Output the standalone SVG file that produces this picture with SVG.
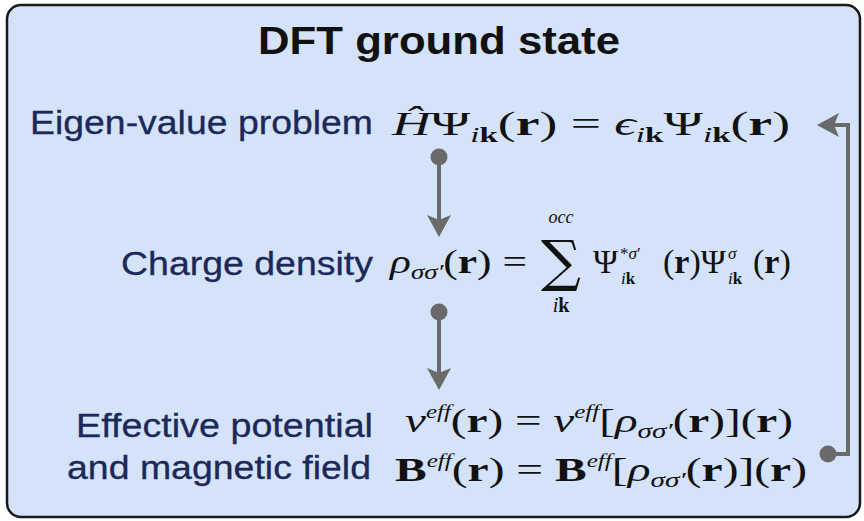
<svg xmlns="http://www.w3.org/2000/svg" width="864" height="521" viewBox="0 0 864 521">
<defs>
<style>
.lab{font-family:"Liberation Sans",Arial,sans-serif;font-size:33px;fill:#1b2858;stroke:#1b2858;stroke-width:0.3;text-anchor:end}
.title{font-family:"Liberation Sans",Arial,sans-serif;font-size:38px;font-weight:bold;fill:#111;text-anchor:middle}
.m{font-family:"Liberation Serif","DejaVu Serif",serif;font-size:34px;fill:#111}
.it{font-style:italic}
.bf{font-weight:bold}
.s{font-size:21px}
.ss{font-size:18px}
.sx{font-size:17px}
.con{fill:none;stroke:#6a6a6a;stroke-width:4}
</style>
<marker id="arr" markerUnits="userSpaceOnUse" markerWidth="24" markerHeight="26" viewBox="0 0 24 26" refX="10" refY="13" orient="auto">
<path d="M0,1 L22,13 L0,25 L5,13 Z" fill="#6a6a6a"/>
</marker>
<marker id="dot" markerUnits="userSpaceOnUse" markerWidth="20" markerHeight="20" viewBox="0 0 20 20" refX="10" refY="10" orient="auto">
<circle cx="10" cy="10" r="8.5" fill="#6a6a6a"/>
</marker>
</defs>
<rect x="7" y="5" width="853" height="512" rx="14" ry="14" fill="#d4e2fa" stroke="#1a1a1a" stroke-width="2.5"/>
<g id="title"><text class="title" x="439" y="54" textLength="362" lengthAdjust="spacingAndGlyphs">DFT ground state</text></g>
<g id="eigen">
<text class="lab" x="373" y="134" textLength="343" lengthAdjust="spacingAndGlyphs">Eigen-value problem</text>
<text class="m" x="392" y="135" textLength="398" lengthAdjust="spacingAndGlyphs"><tspan class="it">Ĥ</tspan><tspan>Ψ</tspan><tspan class="s it" dy="7">i</tspan><tspan class="s bf">k</tspan><tspan dy="-7">(</tspan><tspan class="bf">r</tspan><tspan>) = </tspan><tspan class="it">ϵ</tspan><tspan class="s it" dy="7">i</tspan><tspan class="s bf">k</tspan><tspan dy="-7">Ψ</tspan><tspan class="s it" dy="7">i</tspan><tspan class="s bf">k</tspan><tspan dy="-7">(</tspan><tspan class="bf">r</tspan><tspan>)</tspan></text>
</g>
<g id="charge">
<text class="lab" x="373" y="275" textLength="252" lengthAdjust="spacingAndGlyphs">Charge density</text>
<text class="m" x="390" y="273" textLength="137" lengthAdjust="spacingAndGlyphs"><tspan class="it">ρ</tspan><tspan class="s it" dy="6">σσ′</tspan><tspan dy="-6">(</tspan><tspan class="bf">r</tspan><tspan>) =</tspan></text>
<text x="561" y="280" text-anchor="middle" style="font-family:'DejaVu Serif',serif;font-size:56px;fill:#111">∑</text>
<text class="m ss it" x="561" y="223" text-anchor="middle">occ</text>
<text class="m" x="561" y="312" text-anchor="middle" style="font-size:20px"><tspan class="it">i</tspan><tspan class="bf">k</tspan></text>
<text class="m"><tspan x="593" y="273">Ψ</tspan><tspan class="sx" x="620" y="259">*<tspan class="it">σ</tspan>′</tspan><tspan class="sx" x="621" y="284"><tspan class="it">i</tspan><tspan class="bf">k</tspan></tspan><tspan x="663" y="273">(</tspan><tspan class="bf">r</tspan><tspan>)Ψ</tspan><tspan class="sx it" x="728" y="259">σ</tspan><tspan class="sx" x="728" y="284"><tspan class="it">i</tspan><tspan class="bf">k</tspan></tspan><tspan x="753" y="273">(</tspan><tspan class="bf">r</tspan><tspan>)</tspan></text>
</g>
<g id="effective">
<text class="lab" x="373" y="437" textLength="297" lengthAdjust="spacingAndGlyphs">Effective potential</text>
<text class="lab" x="371" y="479" textLength="304" lengthAdjust="spacingAndGlyphs">and magnetic field</text>
<text class="m" x="405" y="432" textLength="388" lengthAdjust="spacingAndGlyphs"><tspan class="it">v</tspan><tspan class="ss it" dy="-14">eff</tspan><tspan dy="14">(</tspan><tspan class="bf">r</tspan><tspan>) = </tspan><tspan class="it">v</tspan><tspan class="ss it" dy="-14">eff</tspan><tspan dy="14">[</tspan><tspan class="it">ρ</tspan><tspan class="s it" dy="6">σσ′</tspan><tspan dy="-6">(</tspan><tspan class="bf">r</tspan><tspan>)](</tspan><tspan class="bf">r</tspan><tspan>)</tspan></text>
<text class="m" x="395" y="481" textLength="412" lengthAdjust="spacingAndGlyphs"><tspan class="bf">B</tspan><tspan class="ss it" dy="-14">eff</tspan><tspan dy="14">(</tspan><tspan class="bf">r</tspan><tspan>) = </tspan><tspan class="bf">B</tspan><tspan class="ss it" dy="-14">eff</tspan><tspan dy="14">[</tspan><tspan class="it">ρ</tspan><tspan class="s it" dy="6">σσ′</tspan><tspan dy="-6">(</tspan><tspan class="bf">r</tspan><tspan>)](</tspan><tspan class="bf">r</tspan><tspan>)</tspan></text>
</g>
<g id="connectors">
<path class="con" d="M439,157 V225" marker-start="url(#dot)" marker-end="url(#arr)"/>
<path class="con" d="M439,312 V378" marker-start="url(#dot)" marker-end="url(#arr)"/>
<path class="con" d="M828,454 H848 V125 H829" marker-start="url(#dot)" marker-end="url(#arr)"/>
</g>
</svg>
